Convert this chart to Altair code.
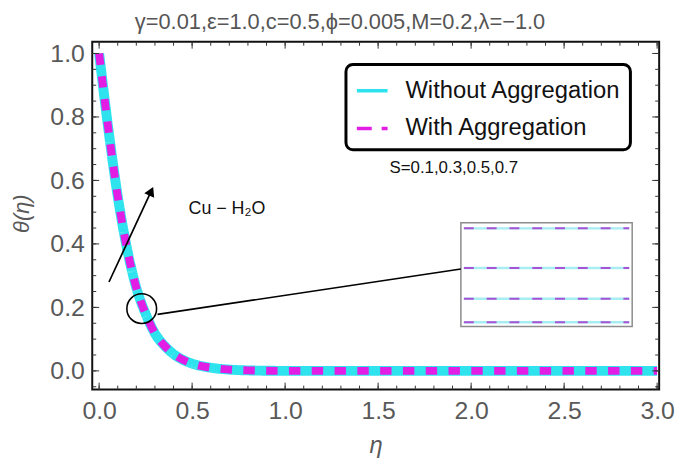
import altair as alt
import pandas as pd

# ---- data ----
eta = [0, 0.05, 0.1, 0.15, 0.2, 0.25, 0.3, 0.35, 0.4, 0.45, 0.5, 0.6, 0.7, 0.8, 0.9, 1.0, 1.5, 2.0, 2.5, 3.0]
theta_without = [1.0, 0.76, 0.55, 0.385, 0.262, 0.18, 0.118, 0.08, 0.053, 0.035, 0.023, 0.01, 0.004, 0.0015, 0.0005, 0.0, 0.0, 0.0, 0.0, 0.0]
theta_with = [1.0, 0.76, 0.55, 0.385, 0.262, 0.18, 0.118, 0.08, 0.053, 0.035, 0.023, 0.01, 0.004, 0.0015, 0.0005, 0.0, 0.0, 0.0, 0.0, 0.0]
series_names = ["Without Aggregation", "With Aggregation"]
series_colors = ["#2FE3EE", "#E21EE4"]

S_values = [0.1, 0.3, 0.5, 0.7]
inset_levels = [0.449, 0.324, 0.227, 0.153]   # zoomed-view levels of the four S curves
inset_x = [1.961, 2.850]
inset_box = {"x": 1.945, "x2": 2.866, "y": 0.140, "y2": 0.467}

arrow_tail = [0.053, 0.280]
arrow_head = [0.280, 0.566]
circle_pos = [0.229, 0.196]
connector = [0.314, 0.178, 1.945, 0.321]
label_cu = [0.687, 0.511]
label_s = [1.907, 0.639]
title_text = "γ=0.01,ε=1.0,c=0.5,ϕ=0.005,M=0.2,λ=−1.0"

x_major = [0, 0.5, 1.0, 1.5, 2.0, 2.5, 3.0]
x_minor = [round(i * 0.1, 2) for i in range(0, 31)]
y_major = [0, 0.2, 0.4, 0.6, 0.8, 1.0]
y_minor = [round(i * 0.05, 2) for i in range(-1, 21)]

W, H = 572, 351
FONT = "Liberation Sans"
GRAY = "#595959"

rows = []
for e, a, b in zip(eta, theta_without, theta_with):
    rows.append({"eta": e, "theta": a, "series": series_names[0]})
    rows.append({"eta": e, "theta": b, "series": series_names[1]})
df = pd.DataFrame(rows)

xs = alt.Scale(domain=[-0.037, 3.011], nice=False, zero=False)
ys = alt.Scale(domain=[-0.059, 1.037], nice=False, zero=False)

color = alt.Color("series:N", scale=alt.Scale(domain=series_names, range=series_colors),
                  legend=alt.Legend(title=None))
dash = alt.StrokeDash("series:N", scale=alt.Scale(domain=series_names, range=[[1, 0], [15, 10]]),
                      legend=alt.Legend(title=None))

xaxis = alt.Axis(values=x_major, format=".1f", ticks=False, domain=False, grid=False,
                 labelFontSize=25, labelColor=GRAY, labelFont=FONT, labelPadding=9,
                 title="η", titleFontSize=24, titleFontStyle="italic", titleFont=FONT,
                 titleColor=GRAY, titleFontWeight="normal", titleX=286, titleY=56,
                 titleBaseline="middle")
yaxis = alt.Axis(values=y_major, format=".1f", ticks=False, domain=False, grid=False,
                 labelFontSize=25, labelColor=GRAY, labelFont=FONT, labelPadding=8,
                 title="θ(η)", titleFontSize=22, titleFontStyle="italic", titleFont=FONT,
                 titleColor=GRAY, titleFontWeight="normal", titleX=-71, titleY=173,
                 titleAngle=-90, titleBaseline="middle", titleAlign="center")

base = alt.Chart(df)
cyan_line = base.transform_filter(alt.datum.series == series_names[0]).mark_line(
    strokeWidth=10, interpolate="monotone").encode(
    x=alt.X("eta:Q", scale=xs, axis=xaxis),
    y=alt.Y("theta:Q", scale=ys, axis=yaxis),
    color=color, strokeDash=dash)
mag_line = base.transform_filter(alt.datum.series == series_names[1]).mark_line(
    strokeWidth=8, interpolate="monotone", strokeDash=[11.5, 11.5]).encode(
    x=alt.X("eta:Q", scale=xs),
    y=alt.Y("theta:Q", scale=ys),
    color=color)

# inward frame ticks
xmaj = pd.DataFrame({"v": x_major})
xmin = pd.DataFrame({"v": x_minor})
ymaj = pd.DataFrame({"v": y_major})
ymin = pd.DataFrame({"v": y_minor})

def xticks(d, L):
    b = alt.Chart(d).mark_rule(color="#333", strokeWidth=1)
    return (b.encode(x=alt.X("v:Q", scale=xs), y=alt.value(H), y2=alt.value(H - L)) +
            b.encode(x=alt.X("v:Q", scale=xs), y=alt.value(0), y2=alt.value(L)))

def yticks(d, L):
    b = alt.Chart(d).mark_rule(color="#333", strokeWidth=1)
    return (b.encode(y=alt.Y("v:Q", scale=ys), x=alt.value(0), x2=alt.value(L)) +
            b.encode(y=alt.Y("v:Q", scale=ys), x=alt.value(W), x2=alt.value(W - L)))

ticks = xticks(xmaj, 7) + xticks(xmin, 4) + yticks(ymaj, 7) + yticks(ymin, 4)

# inset (zoomed view of the four S curves)
box = alt.Chart(pd.DataFrame([inset_box])).mark_rect(fill="white", stroke="#8c8c8c", strokeWidth=1.5).encode(
    x=alt.X("x:Q", scale=xs), x2="x2:Q", y=alt.Y("y:Q", scale=ys), y2="y2:Q")
inset_df = pd.DataFrame({"S": S_values, "lev": inset_levels,
                         "x1": [inset_x[0]] * 4, "x2": [inset_x[1]] * 4})
inset_c = alt.Chart(inset_df).mark_rule(color="#A6EEF2", strokeWidth=2.5).encode(
    x=alt.X("x1:Q", scale=xs), x2="x2:Q", y=alt.Y("lev:Q", scale=ys))
inset_m = alt.Chart(inset_df).mark_rule(color="#A852D6", strokeWidth=2, strokeDash=[10, 13]).encode(
    x=alt.X("x1:Q", scale=xs), x2="x2:Q", y=alt.Y("lev:Q", scale=ys))

# annotations
conn = alt.Chart(pd.DataFrame([{"x": connector[0], "y": connector[1], "x2": connector[2], "y2": connector[3]}])).mark_rule(
    color="black", strokeWidth=1.6).encode(x=alt.X("x:Q", scale=xs), y=alt.Y("y:Q", scale=ys), x2="x2:Q", y2="y2:Q")
circ = alt.Chart(pd.DataFrame([{"x": circle_pos[0], "y": circle_pos[1]}])).mark_point(
    shape="circle", filled=False, size=900, stroke="black", strokeWidth=1.6, opacity=1).encode(
    x=alt.X("x:Q", scale=xs), y=alt.Y("y:Q", scale=ys))
arr = alt.Chart(pd.DataFrame([{"x": arrow_tail[0], "y": arrow_tail[1], "x2": arrow_head[0], "y2": arrow_head[1]}])).mark_rule(
    color="black", strokeWidth=1.7).encode(x=alt.X("x:Q", scale=xs), y=alt.Y("y:Q", scale=ys), x2="x2:Q", y2="y2:Q")
head = alt.Chart(pd.DataFrame([{"x": arrow_head[0], "y": arrow_head[1]}])).mark_point(
    shape="triangle-up", filled=True, size=120, color="black", angle=25, opacity=1).encode(
    x=alt.X("x:Q", scale=xs), y=alt.Y("y:Q", scale=ys))
t1 = alt.Chart(pd.DataFrame([{"x": label_cu[0], "y": label_cu[1], "t": "Cu − H₂O"}])).mark_text(
    fontSize=18, font=FONT, color="#111").encode(x=alt.X("x:Q", scale=xs), y=alt.Y("y:Q", scale=ys), text="t:N")
t2 = alt.Chart(pd.DataFrame([{"x": label_s[0], "y": label_s[1], "t": "S=0.1,0.3,0.5,0.7"}])).mark_text(
    fontSize=17, font=FONT, color="#111").encode(x=alt.X("x:Q", scale=xs), y=alt.Y("y:Q", scale=ys), text="t:N")
ttl = alt.Chart(pd.DataFrame([{"t": title_text}])).mark_text(
    fontSize=22, font=FONT, color="#555", baseline="alphabetic", align="center").encode(
    x=alt.value(250), y=alt.value(-13), text="t:N")

chart = alt.layer(cyan_line, mag_line, ticks, box, inset_c, inset_m, conn, circ, arr, head, t1, t2, ttl).properties(
    width=W, height=H,
    autosize=alt.AutoSizeParams(type="none"),
    padding={"left": 85, "top": 32, "right": 18, "bottom": 70},
).configure_view(stroke="#111", strokeWidth=2).configure_legend(
    orient="none", legendX=256, legendY=23, fillColor="white", strokeColor="black",
    strokeWidth=3, cornerRadius=7, padding=9, labelFontSize=24, labelFont=FONT, labelColor="#111",
    symbolSize=961, symbolStrokeWidth=3.5, symbolType="stroke", labelOffset=16, rowPadding=8,
    labelLimit=400,
)

chart.save("out.html", embed_options={"renderer": "svg", "actions": False})
